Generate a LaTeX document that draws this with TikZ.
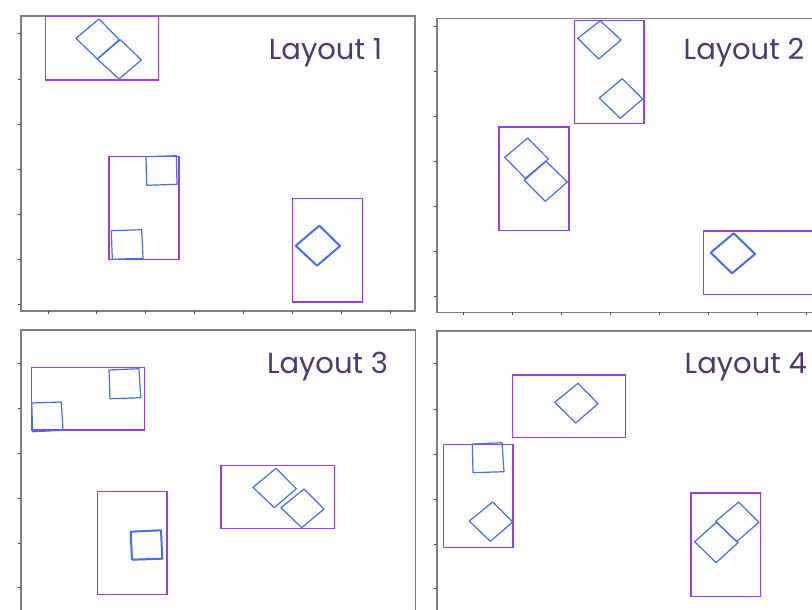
\documentclass[tikz,border=0pt]{standalone}
\usepackage{fontspec}
\setmainfont{Poppins}
\definecolor{frm}{RGB}{128,128,128}
\definecolor{pur}{RGB}{160,60,220}
\definecolor{blu}{RGB}{70,110,230}
\definecolor{ttl}{RGB}{80,55,110}
\tikzset{
  frame/.style={draw=frm,line width=1.2pt},
  tick/.style={draw=black!70,line width=0.6pt},
  grp/.style={draw=pur,line width=1.3pt},
  sq/.style={draw=blu,line width=1.2pt,line join=round},
  sqb/.style={draw=blu,line width=2pt,line join=round},
  ttlstyle/.style={text=ttl,font=\fontsize{29}{30}\selectfont,anchor=base,inner sep=0pt}
}
\begin{document}
\begin{tikzpicture}[x=1pt,y=-1pt]
\useasboundingbox (0,0) rectangle (812,610);
\fill[white] (0,0) rectangle (812,610);
% ---------- Panel 1 ----------
\draw[frame] (21,16) rectangle (415,311);
\foreach \y in {33,79,124,169,214,259,304} \draw[tick] (18,\y) -- (21,\y);
\foreach \x in {48,96,145,194,243,292,341,390} \draw[tick] (\x,311) -- (\x,314);
\node[ttlstyle] (t1) at (325.5,59.3) {Layout 1};
\draw[grp] (45.7,16.7) rectangle (158.7,80);
\draw[sq] (99,19) -- (119.3,39.7) -- (97.3,59) -- (76,38.3) -- cycle;
\draw[sq] (120.3,39.7) -- (141.3,60) -- (119,79) -- (97.3,59) -- cycle;
\draw[grp] (109,156.3) rectangle (179,259.7);
\draw[sq] (146,156.7) -- (176.3,155.7) -- (177,184.3) -- (146.7,185.3) -- cycle;
\draw[sq] (111.3,230.7) -- (141.7,229.7) -- (143,258.3) -- (112.3,259.3) -- cycle;
\draw[grp] (292.7,198.7) rectangle (362.7,302);
\draw[sqb] (319.3,225.7) -- (340,246) -- (317,265.7) -- (295.7,245.7) -- cycle;
% ---------- Panel 2 ----------
\draw[frame] (830,18.3) -- (437,18.3) -- (437,312.3) -- (830,312.3);
\foreach \y in {26.7,71.7,116.7,161.3,206.7,251.7,296.7} \draw[tick] (434,\y) -- (437,\y);
\foreach \x in {463.3,512.3,561.3,610.3,659.3,708.3,757.3,806.3} \draw[tick] (\x,312.3) -- (\x,315.3);
\node[ttlstyle] (t2) at (744,59.3) {Layout 2};
\draw[grp] (574.3,20.3) rectangle (644,123.3);
\draw[sq] (600.3,20.7) -- (621,40) -- (598.7,59) -- (577.7,38.3) -- cycle;
\draw[sq] (622.3,78.7) -- (642.7,99) -- (620.3,118.3) -- (599.3,98) -- cycle;
\draw[grp] (499,127) rectangle (569,230.7);
\draw[sq] (527.7,138) -- (548.3,159) -- (525.3,178.3) -- (504.7,157.3) -- cycle;
\draw[sq] (546,161.3) -- (567.3,182) -- (545.3,201.3) -- (524.3,180.3) -- cycle;
\draw[grp] (830,231) -- (703.3,231) -- (703.3,294.3) -- (830,294.3);
\draw[sqb] (733.7,233.3) -- (755,254) -- (732,273.3) -- (710.7,252.7) -- cycle;
% ---------- Panel 3 ----------
\draw[frame] (21,620) -- (21,330) -- (415.3,330) -- (415.3,620);
\foreach \y in {363.3,408.3,453.3,498.3,543.3,587.7} \draw[tick] (18,\y) -- (21,\y);
\node[ttlstyle] (t3) at (327.5,373.3) {Layout 3};
\draw[grp] (31.7,367.3) rectangle (144.7,430);
\draw[sq] (109,370) -- (139,368.7) -- (140.7,397.7) -- (110,398.7) -- cycle;
\draw[sq] (31.7,403) -- (61.3,402) -- (63,430.3) -- (32.7,431.7) -- cycle;
\draw[grp] (97.7,491.7) rectangle (167,594.7);
\draw[sqb] (130.7,531.7) -- (161,530.3) -- (162.3,558.7) -- (132,559.7) -- cycle;
\draw[grp] (221,465.7) rectangle (334.3,528.7);
\draw[sq] (276,468.3) -- (296.3,488.7) -- (274.3,507.7) -- (253,487.3) -- cycle;
\draw[sq] (304,489) -- (324,509) -- (301.7,527.7) -- (281,507.7) -- cycle;
% ---------- Panel 4 ----------
\draw[frame] (830,331) -- (437,331) -- (437,620);
\foreach \y in {363.3,409.3,454,499,544,588.3} \draw[tick] (434,\y) -- (437,\y);
\node[ttlstyle] (t4) at (745.8,373.3) {Layout 4};
\draw[grp] (512.7,375) rectangle (625.3,437.7);
\draw[sq] (578,383.3) -- (598,403.7) -- (575.7,423) -- (554.7,402.3) -- cycle;
\draw[grp] (443.7,444.7) rectangle (513,547.7);
\draw[sq] (472.3,444) -- (502,442.7) -- (504,471.7) -- (473,472.7) -- cycle;
\draw[sq] (492.7,502) -- (512.7,522) -- (490.3,541.3) -- (469.3,521) -- cycle;
\draw[grp] (691,493) rectangle (760.7,596.7);
\draw[sq] (738.7,502) -- (758.7,522.3) -- (736.7,541.7) -- (715.7,521.3) -- cycle;
\draw[sq] (716.3,522.3) -- (738,542.7) -- (716,562.7) -- (694.7,541.7) -- cycle;
\end{tikzpicture}
\end{document}
